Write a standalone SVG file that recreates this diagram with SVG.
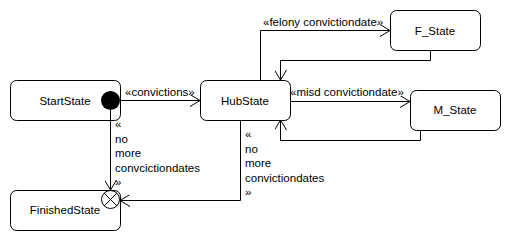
<svg xmlns="http://www.w3.org/2000/svg" width="510" height="240" viewBox="0 0 510 240">
  <style>
    .state { fill: #ffffff; stroke: #000000; stroke-width: 1; }
    .label { font-family: "Liberation Sans", Arial, sans-serif; font-size: 11.5px; fill: #000000; }
    .mid { text-anchor: middle; }
    .edge { fill: none; stroke: #000000; stroke-width: 1; }
  </style>
  <defs>
    <marker id="open-arrow" markerWidth="12" markerHeight="12" refX="10" refY="6" orient="auto" markerUnits="userSpaceOnUse">
      <path d="M0,0 L10,6 L0,12" fill="none" stroke="#000000" stroke-width="1"/>
    </marker>
  </defs>

  <rect width="510" height="240" fill="#ffffff"/>

  <!-- states -->
  <g id="StartState">
    <rect class="state" x="10.5" y="80.5" width="110" height="40" rx="6"/>
    <text class="label mid" x="65" y="105">StartState</text>
    <circle cx="110.5" cy="100.5" r="9.5" fill="#000000"/>
  </g>
  <g id="HubState">
    <rect class="state" x="200.5" y="80.5" width="90" height="40" rx="6"/>
    <text class="label mid" x="245" y="105">HubState</text>
  </g>
  <g id="F_State">
    <rect class="state" x="390.5" y="10.5" width="90" height="40" rx="6"/>
    <text class="label mid" x="435" y="35">F_State</text>
  </g>
  <g id="M_State">
    <rect class="state" x="410.5" y="90.5" width="90" height="40" rx="6"/>
    <text class="label mid" x="455" y="114">M_State</text>
  </g>
  <g id="FinishedState">
    <rect class="state" x="10.5" y="190.5" width="110" height="40" rx="6"/>
    <text class="label mid" x="65" y="214">FinishedState</text>
    <circle cx="110.5" cy="199.5" r="9" fill="#ffffff" stroke="#000000"/>
    <path d="M104.1,193.1 L116.9,205.9 M116.9,193.1 L104.1,205.9" stroke="#000000" fill="none"/>
  </g>

  <!-- connectors -->
  <g id="connectors">
    <path class="edge" d="M120,100.5 H200" marker-end="url(#open-arrow)"/>
    <text class="label" x="125" y="96">«convictions»</text>

    <path class="edge" d="M260.5,80 V30.5 H390" marker-end="url(#open-arrow)"/>
    <text class="label" x="263" y="26">«felony convictiondate»</text>

    <path class="edge" d="M430.5,50 V60.5 H280.5 V80" marker-end="url(#open-arrow)"/>

    <path class="edge" d="M290,101.5 H410" marker-end="url(#open-arrow)"/>
    <text class="label" x="290" y="96">«misd convictiondate»</text>

    <path class="edge" d="M420.5,130 V140.5 H280.5 V120" marker-end="url(#open-arrow)"/>

    <path class="edge" d="M110.5,110 V190" marker-end="url(#open-arrow)"/>
    <text class="label">
      <tspan x="115" y="128">«</tspan>
      <tspan x="115" y="142.5">no</tspan>
      <tspan x="115" y="157">more</tspan>
      <tspan x="115" y="171.5">convcictiondates</tspan>
      <tspan x="115" y="186">»</tspan>
    </text>

    <path class="edge" d="M240.5,120 V200.5 H120" marker-end="url(#open-arrow)"/>
    <text class="label">
      <tspan x="245" y="138">«</tspan>
      <tspan x="245" y="152.5">no</tspan>
      <tspan x="245" y="167">more</tspan>
      <tspan x="245" y="181.5">convictiondates</tspan>
      <tspan x="245" y="196">»</tspan>
    </text>
  </g>
</svg>
